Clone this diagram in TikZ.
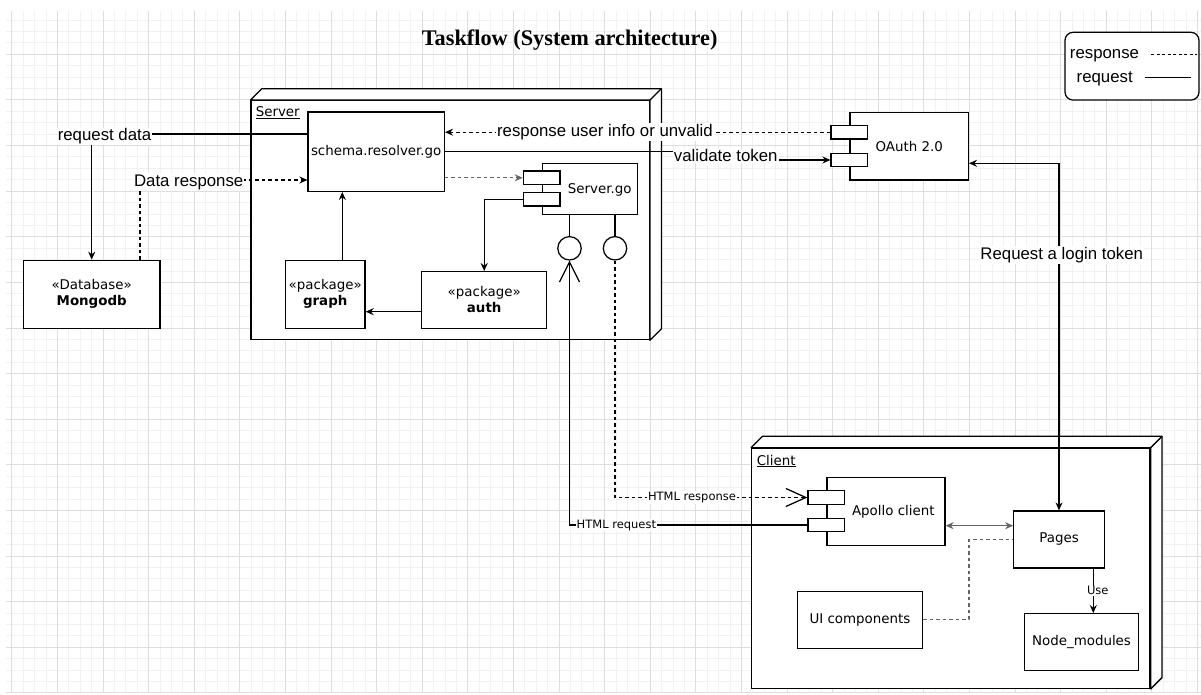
\documentclass[tikz,border=0pt]{standalone}
\usepackage{fontspec}
\newfontfamily\titlefont{Liberation Serif}
\newfontfamily\linefont{Liberation Sans}
\newfontfamily\boxfont{DejaVu Sans}
\usepackage{tikz}
\usetikzlibrary{arrows.meta, positioning, calc}
\definecolor{gridmajor}{RGB}{222,222,222}
\definecolor{gridminor}{RGB}{241,241,241}
\definecolor{linkgray}{RGB}{100,100,100}

\begin{document}
\begin{tikzpicture}[
    x=1pt, y=-1pt,
    every path/.style={line width=1.25pt},
    box/.style={rectangle, draw, fill=white, inner sep=0pt, font=\boxfont\fontsize{13.4}{16}\selectfont, align=center},
    boxtext/.style={inner sep=0pt, font=\boxfont\fontsize{13.4}{16}\selectfont},
    port/.style={rectangle, draw, fill=white, inner sep=0pt, minimum width=36.7pt, minimum height=13.5pt},
    lollipop/.style={circle, draw, fill=white, inner sep=0pt, minimum size=23.4pt},
    pkg/.style={rectangle, draw, fill=white, inner sep=0pt},
    lbl/.style={fill=white, inner sep=1pt, font=\linefont\fontsize{16.8}{19}\selectfont},
    smalllbl/.style={fill=white, inner sep=1pt, font=\boxfont\fontsize{11.5}{13}\selectfont},
    req/.style={draw, -{Stealth[length=8pt,width=7pt]}},
    resp/.style={req, dash pattern=on 3.5pt off 3pt},
    both/.style={draw, {Stealth[length=8pt,width=7pt]}-{Stealth[length=8pt,width=7pt]}},
    openreq/.style={draw, -{Straight Barb[length=20pt,width=20pt]}},
]
\useasboundingbox (0,0) rectangle (1201,695);
\fill[white] (0,0) rectangle (1201,695);

% background grid
\foreach \gx in {11.7,23.1,...,1201} \draw[gridminor, line width=0.8pt] (\gx,11) -- (\gx,692.7);
\foreach \gy in {20.1,31.5,...,693} \draw[gridminor, line width=0.8pt] (6,\gy) -- (1201,\gy);
\foreach \gx in {11.7,57.3,...,1201} \draw[gridmajor, line width=0.8pt] (\gx,11) -- (\gx,692.7);
\foreach \gy in {54.3,99.9,...,693} \draw[gridmajor, line width=0.8pt] (6,\gy) -- (1201,\gy);

\node[font=\titlefont\bfseries\fontsize{22.3}{26}\selectfont] (title) at (569.7,40) {Taskflow (System architecture)};

% legend
\node[draw, rounded corners=8pt, fill=white, minimum width=134pt, minimum height=67.7pt] (legend) at (1132,66.2) {};
\node[lbl, fill=none] (lg-resp) at (1104.5,55.7) {response};
\node[lbl, fill=none] (lg-req) at (1104.7,79) {request};
\draw[line width=1pt, dash pattern=on 3pt off 2.5pt] ([xshift=10.7pt,yshift=1pt]lg-resp.east) -- ++(45.3,0);
\draw ([xshift=11pt,yshift=1.3pt]lg-req.east) -- ++(46,0);

% the two deployment nodes
\node[pkg, minimum width=398.3pt, minimum height=239pt] (server) at (450.2,220.2) {};
\node[pkg, minimum width=398.3pt, minimum height=240pt] (client) at (950.9,568.3) {};
\foreach \n in {server,client} {
  \draw[fill=white, line join=round] (\n.north west) -- ++(11.4,-11.4)
    -- ([shift={(11.4,-11.4)}]\n.north east) -- ([shift={(11.4,-11.4)}]\n.south east)
    -- (\n.south east) -- (\n.north east) -- cycle;
  \draw (\n.north east) -- ++(11.4,-11.4);
}
\node[boxtext, anchor=west] at ([xshift=4.7pt,yshift=-12.6pt]server.north west) {\underline{Server}};
\node[boxtext, anchor=west] at ([xshift=5pt,yshift=-13.4pt]client.north west) {\underline{Client}};

% server side
\node[box, minimum width=136.3pt, minimum height=79.3pt] (schema) at (376.2,151.7) {schema.resolver.go};
\node[box, minimum width=79.7pt, minimum height=68pt] (graph) at (325.2,294.3) {«package»\\\textbf{graph}};
\node[box, minimum width=125pt, minimum height=56.6pt] (auth) at (484.2,300) {«package»\\\textbf{auth}};
\node[box, minimum width=95.4pt, minimum height=51pt] (srv) at (590,188.8) {};
\node[boxtext] at ([xshift=9.7pt,yshift=-1.2pt]srv.center) {Server.go};
\node[port] (srvp1) at ([yshift=11pt]srv.west) {};
\node[port] (srvp2) at ([yshift=-10.4pt]srv.west) {};
\node[lollipop] (lol1) at (569.5,248.3) {};
\node[lollipop] (lol2) at (615,248.3) {};
\draw (lol1 |- srv.south) -- (lol1.north);
\draw (lol2 |- srv.south) -- (lol2.north);

\node[box, minimum width=136.7pt, minimum height=68pt] (mongo) at (91.7,294.3) {«Database»\\\textbf{Mongodb}};

\node[box, minimum width=118.3pt, minimum height=67.7pt] (oauth) at (909.2,146.2) {OAuth 2.0};
\node[port] (oap1) at ([yshift=14pt]oauth.west) {};
\node[port] (oap2) at ([yshift=-13.8pt]oauth.west) {};

% client side
\node[box, minimum width=118pt, minimum height=68.4pt] (apollo) at (886,511.5) {};
\node[boxtext] at ([xshift=7.3pt]apollo.center) {Apollo client};
\node[port] (ap1) at ([yshift=14pt]apollo.west) {};
\node[port] (ap2) at ([yshift=-13.5pt]apollo.west) {};
\node[box, minimum width=90.6pt, minimum height=57pt] (pages) at (1059,539.5) {Pages};
\node[box, minimum width=114.4pt, minimum height=57pt] (nodemods) at (1081.5,642.2) {Node\_modules};
\node[box, minimum width=125.4pt, minimum height=57pt] (uicomp) at (860,619.8) {UI components};

% database links
\draw[req] ([yshift=17.7pt]schema.west) -| node[lbl, pos=0.5, xshift=12.8pt, yshift=-2.5pt] {request data} (mongo.north);
\draw[resp] ([xshift=48.3pt]mongo.north) |- node[lbl, pos=0.5, xshift=48.7pt, yshift=-2pt] {Data response} ([yshift=-28.3pt]schema.west);

% inside the server
\coordinate (g-up) at ([xshift=17.1pt]graph.north);
\draw[req] (g-up) -- (g-up |- schema.south);
\coordinate (a-out) at ([yshift=-11.7pt]auth.west);
\draw[req] (a-out) -- (a-out -| graph.east);
\draw[req] (srvp2.west) -| (auth.north);
\draw[resp, draw=linkgray] (srvp1.west -| schema.east) -- (srvp1.west);

% oauth
\draw[req] (schema.east) -- ++(280.7,0) |- node[lbl, pos=0.25] {validate token} (oap2.west);
\draw[resp] (oap1.west) -- node[lbl, pos=0.585] {response user info or unvalid} (oap1.west -| schema.east);
\coordinate (oa-in) at ([yshift=-17.1pt]oauth.east);
\draw[both] (pages.north) |- node[lbl, pos=0.368, xshift=2.7pt] {Request a login token} (oa-in);

% html traffic
\draw[openreq] (ap2.west) -| node[smalllbl, pos=0.4015] {HTML request} (lol1.south);
\draw[openreq, dash pattern=on 3.5pt off 3pt, -{Straight Barb[length=20pt,width=18pt]}] (lol2.south) |- node[smalllbl, pos=0.7] {HTML response} (ap1.west);

% inside the client
\coordinate (ap-out) at ([yshift=-14.2pt]apollo.east);
\draw[both, draw=linkgray] (ap-out) -- (ap-out -| pages.west);
\draw[draw=linkgray, dash pattern=on 3.5pt off 3pt] (uicomp.east) -- ++(45.6,0) |- (pages.west);
\coordinate (pg-out) at ([xshift=34.3pt]pages.south);
\draw[req] (pg-out) -- node[smalllbl, xshift=4.5pt] {Use} (pg-out |- nodemods.north);
\end{tikzpicture}
\end{document}
